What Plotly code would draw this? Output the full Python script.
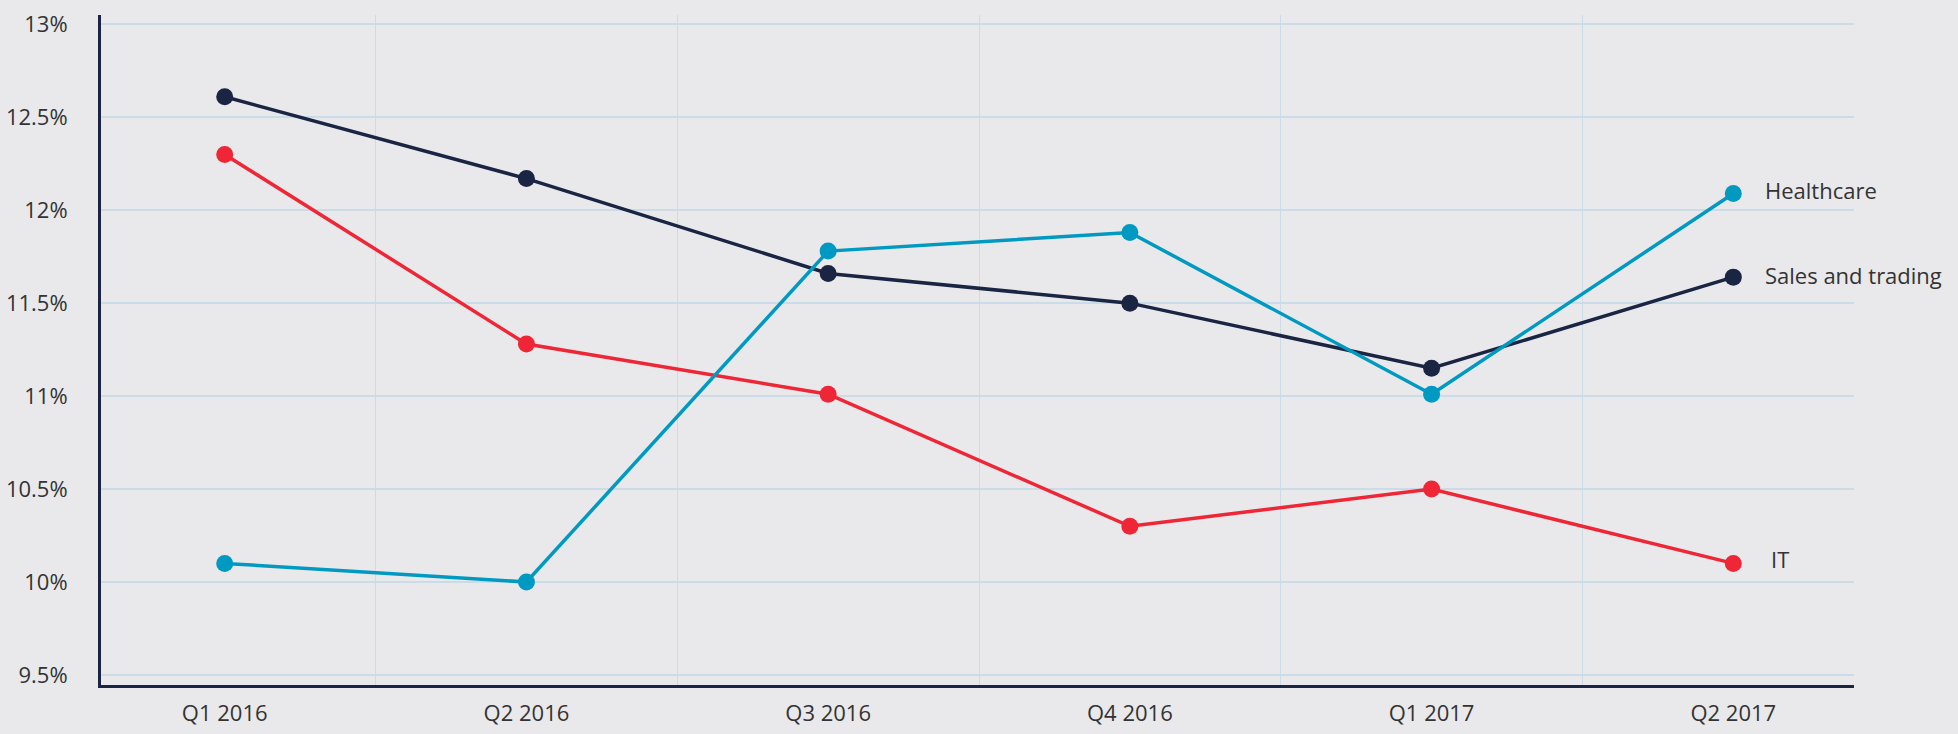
import plotly.graph_objects as go

quarters = ["Q1 2016", "Q2 2016", "Q3 2016", "Q4 2016", "Q1 2017", "Q2 2017"]
sales_trading = [12.61, 12.17, 11.66, 11.50, 11.15, 11.64]
it = [12.30, 11.28, 11.01, 10.30, 10.50, 10.10]
healthcare = [10.10, 10.00, 11.78, 11.88, 11.01, 12.09]

y_ticks = [9.5, 10, 10.5, 11, 11.5, 12, 12.5, 13]
y_tick_text = ["9.5%", "10%", "10.5%", "11%", "11.5%", "12%", "12.5%", "13%"]

NAVY = "#1a2543"
RED = "#ee2636"
TEAL = "#0099c2"
BG = "#e9e9eb"
GRID = "#c9dce8"
TEXT = "#333333"
FONT = "Open Sans"

series = [
    ("Sales and trading", sales_trading, NAVY, 30, 2),
    ("IT", it, RED, 36, 4),
    ("Healthcare", healthcare, TEAL, 30, 3),
]

fig = go.Figure()
for name, vals, color, _, _ in series:
    fig.add_trace(go.Scatter(
        x=quarters, y=vals, mode="lines+markers", name=name,
        line=dict(color=color, width=3.5),
        marker=dict(color=color, size=17),
        showlegend=False,
    ))

for name, vals, color, xs, ys in series:
    fig.add_annotation(
        x=quarters[-1], y=vals[-1], text=name, showarrow=False,
        xanchor="left", yanchor="middle", xshift=xs, yshift=ys,
        font=dict(family=FONT, size=22, color=TEXT),
    )

fig.update_layout(
    width=1958, height=734,
    margin=dict(l=101, r=104, t=15, b=49),
    paper_bgcolor=BG, plot_bgcolor=BG,
    font=dict(family=FONT, size=22, color=TEXT),
)
fig.update_xaxes(
    type="category", range=[-0.41, 5.40],
    tickson="boundaries", ticks="", automargin=False,
    showgrid=True, gridcolor=GRID, gridwidth=1,
    showline=True, linecolor=NAVY, linewidth=3,
    zeroline=False, ticklabelstandoff=7,
    tickfont=dict(family=FONT, size=22, color=TEXT),
)
fig.update_yaxes(
    range=[9.446, 13.05], automargin=False,
    tickvals=y_ticks, ticktext=y_tick_text,
    showgrid=True, gridcolor=GRID, gridwidth=2,
    showline=True, linecolor=NAVY, linewidth=3,
    zeroline=False, ticks="", ticklabelstandoff=26,
    tickfont=dict(family=FONT, size=22, color=TEXT),
)

fig.write_html("out.html")
